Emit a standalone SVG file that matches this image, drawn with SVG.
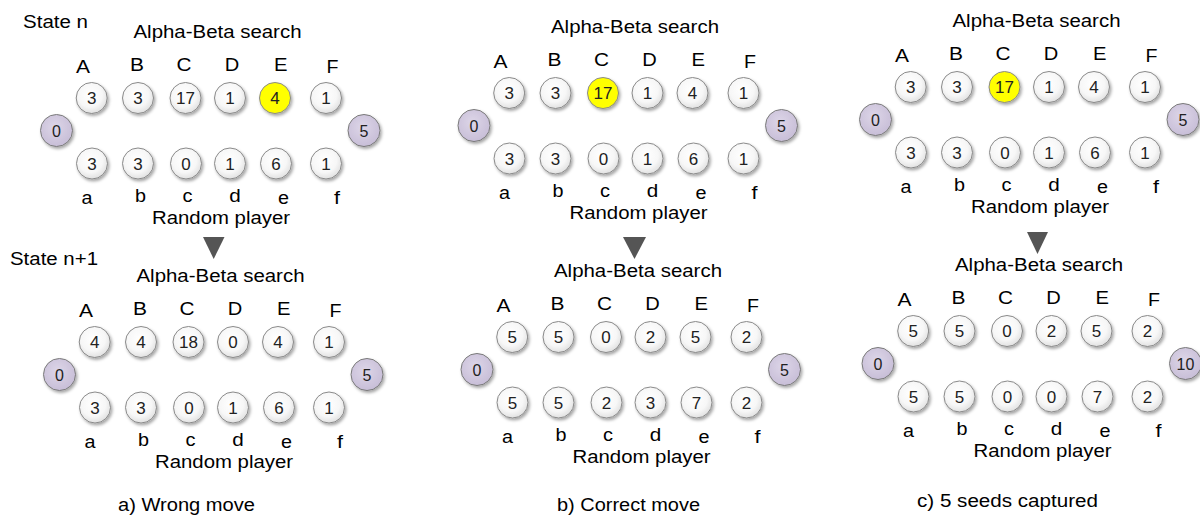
<svg xmlns="http://www.w3.org/2000/svg" width="1200" height="516" viewBox="0 0 1200 516">
<defs>
<radialGradient id="pitGrad" cx="45%" cy="40%" r="65%">
<stop offset="0" stop-color="#ffffff"/>
<stop offset="0.6" stop-color="#f7f7f7"/>
<stop offset="1" stop-color="#dcdcdc"/>
</radialGradient>
<radialGradient id="storeGrad" cx="45%" cy="40%" r="65%">
<stop offset="0" stop-color="#ddd6e8"/>
<stop offset="1" stop-color="#c6bcd6"/>
</radialGradient>
<filter id="sh" x="-30%" y="-30%" width="170%" height="170%">
<feDropShadow dx="1.5" dy="2" stdDeviation="1.4" flood-color="#000" flood-opacity="0.35"/>
</filter>
</defs>
<style>
text{font-family:"Liberation Sans",Arial,sans-serif;fill:#000}
.lbl{font-size:17.5px;text-anchor:middle}
.lbs{font-size:17.5px;text-anchor:start}
.pit circle{fill:url(#pitGrad);stroke:#8a8a8a;stroke-width:1;filter:url(#sh)}
.pit text{font-size:17px;text-anchor:middle;fill:#222}
.hl circle{fill:#ffff00}
.store circle{fill:url(#storeGrad);stroke:#7a7a7a;stroke-width:1;filter:url(#sh)}
.store text{font-size:16px;text-anchor:middle;fill:#222}
.arrow{fill:#555}
</style>

<text class="lbs" x="23" y="28" textLength="65" lengthAdjust="spacingAndGlyphs">State n</text>
<text class="lbs" x="10" y="265" textLength="88" lengthAdjust="spacingAndGlyphs">State n+1</text>
<text class="lbl" x="186.5" y="511" textLength="137" lengthAdjust="spacingAndGlyphs">a) Wrong move</text>
<text class="lbl" x="628.5" y="511" textLength="143" lengthAdjust="spacingAndGlyphs">b) Correct move</text>
<text class="lbl" x="1007.5" y="507" textLength="181" lengthAdjust="spacingAndGlyphs">c) 5 seeds captured</text>

<g id="connectors">
<polygon class="arrow" points="203,237 224.5,237 213.7,259"/>
<polygon class="arrow" points="623,237 646,237 634.5,259"/>
<polygon class="arrow" points="1027,232 1048,232 1037.5,254"/>
</g>

<!-- Board a1 -->
<g id="board-a1" transform="translate(0,0)">
<g class="labels">
<text class="lbl" x="217.5" y="37.7" textLength="168" lengthAdjust="spacingAndGlyphs">Alpha-Beta search</text>
<text class="lbl" x="83" y="72.5" textLength="14" lengthAdjust="spacingAndGlyphs">A</text>
<text class="lbl" x="137" y="70.7" textLength="14" lengthAdjust="spacingAndGlyphs">B</text>
<text class="lbl" x="184" y="70.7" textLength="15" lengthAdjust="spacingAndGlyphs">C</text>
<text class="lbl" x="232" y="70.7" textLength="14.5" lengthAdjust="spacingAndGlyphs">D</text>
<text class="lbl" x="280.7" y="70.7" textLength="13.5" lengthAdjust="spacingAndGlyphs">E</text>
<text class="lbl" x="332.5" y="72.5" textLength="12" lengthAdjust="spacingAndGlyphs">F</text>
<text class="lbl" x="87" y="204" textLength="11" lengthAdjust="spacingAndGlyphs">a</text>
<text class="lbl" x="140.5" y="202.3" textLength="11" lengthAdjust="spacingAndGlyphs">b</text>
<text class="lbl" x="187.5" y="202.3" textLength="10" lengthAdjust="spacingAndGlyphs">c</text>
<text class="lbl" x="235" y="202.3" textLength="11.5" lengthAdjust="spacingAndGlyphs">d</text>
<text class="lbl" x="283.5" y="204" textLength="11" lengthAdjust="spacingAndGlyphs">e</text>
<text class="lbl" x="337" y="204" textLength="6" lengthAdjust="spacingAndGlyphs">f</text>
<text class="lbl" x="221" y="224.3" textLength="138" lengthAdjust="spacingAndGlyphs">Random player</text>
</g>
<g id="a1-A" class="pit" transform="translate(91.7,98)"><circle r="15.5"/><text y="6">3</text></g>
<g id="a1-B" class="pit" transform="translate(138,98)"><circle r="15.5"/><text y="6">3</text></g>
<g id="a1-C" class="pit" transform="translate(185.5,98)"><circle r="15.5"/><text y="6">17</text></g>
<g id="a1-D" class="pit" transform="translate(230,98)"><circle r="15.5"/><text y="6">1</text></g>
<g id="a1-E" class="pit hl" transform="translate(275,98)"><circle r="15.5"/><text y="6">4</text></g>
<g id="a1-F" class="pit" transform="translate(326,98)"><circle r="15.5"/><text y="6">1</text></g>
<g id="a1-storeL" class="store" transform="translate(56.5,130.5)"><circle r="16"/><text y="6">0</text></g>
<g id="a1-storeR" class="store" transform="translate(364,130.5)"><circle r="16"/><text y="6">5</text></g>
<g id="a1-a" class="pit" transform="translate(92,163.5)"><circle r="15.5"/><text y="6">3</text></g>
<g id="a1-b" class="pit" transform="translate(138,163.5)"><circle r="15.5"/><text y="6">3</text></g>
<g id="a1-c" class="pit" transform="translate(186,163.5)"><circle r="15.5"/><text y="6">0</text></g>
<g id="a1-d" class="pit" transform="translate(230,163.5)"><circle r="15.5"/><text y="6">1</text></g>
<g id="a1-e" class="pit" transform="translate(276,163.5)"><circle r="15.5"/><text y="6">6</text></g>
<g id="a1-f" class="pit" transform="translate(326,163.5)"><circle r="15.5"/><text y="6">1</text></g>
</g>

<!-- Board a2 -->
<g id="board-a2" transform="translate(3,244)">
<g class="labels">
<text class="lbl" x="217.5" y="37.7" textLength="168" lengthAdjust="spacingAndGlyphs">Alpha-Beta search</text>
<text class="lbl" x="83" y="72.5" textLength="14" lengthAdjust="spacingAndGlyphs">A</text>
<text class="lbl" x="137" y="70.7" textLength="14" lengthAdjust="spacingAndGlyphs">B</text>
<text class="lbl" x="184" y="70.7" textLength="15" lengthAdjust="spacingAndGlyphs">C</text>
<text class="lbl" x="232" y="70.7" textLength="14.5" lengthAdjust="spacingAndGlyphs">D</text>
<text class="lbl" x="280.7" y="70.7" textLength="13.5" lengthAdjust="spacingAndGlyphs">E</text>
<text class="lbl" x="332.5" y="72.5" textLength="12" lengthAdjust="spacingAndGlyphs">F</text>
<text class="lbl" x="87" y="204" textLength="11" lengthAdjust="spacingAndGlyphs">a</text>
<text class="lbl" x="140.5" y="202.3" textLength="11" lengthAdjust="spacingAndGlyphs">b</text>
<text class="lbl" x="187.5" y="202.3" textLength="10" lengthAdjust="spacingAndGlyphs">c</text>
<text class="lbl" x="235" y="202.3" textLength="11.5" lengthAdjust="spacingAndGlyphs">d</text>
<text class="lbl" x="283.5" y="204" textLength="11" lengthAdjust="spacingAndGlyphs">e</text>
<text class="lbl" x="337" y="204" textLength="6" lengthAdjust="spacingAndGlyphs">f</text>
<text class="lbl" x="221" y="224.3" textLength="138" lengthAdjust="spacingAndGlyphs">Random player</text>
</g>
<g id="a2-A" class="pit" transform="translate(91.7,98)"><circle r="15.5"/><text y="6">4</text></g>
<g id="a2-B" class="pit" transform="translate(138,98)"><circle r="15.5"/><text y="6">4</text></g>
<g id="a2-C" class="pit" transform="translate(185.5,98)"><circle r="15.5"/><text y="6">18</text></g>
<g id="a2-D" class="pit" transform="translate(230,98)"><circle r="15.5"/><text y="6">0</text></g>
<g id="a2-E" class="pit" transform="translate(275,98)"><circle r="15.5"/><text y="6">4</text></g>
<g id="a2-F" class="pit" transform="translate(326,98)"><circle r="15.5"/><text y="6">1</text></g>
<g id="a2-storeL" class="store" transform="translate(56.5,130.5)"><circle r="16"/><text y="6">0</text></g>
<g id="a2-storeR" class="store" transform="translate(364,130.5)"><circle r="16"/><text y="6">5</text></g>
<g id="a2-a" class="pit" transform="translate(92,163.5)"><circle r="15.5"/><text y="6">3</text></g>
<g id="a2-b" class="pit" transform="translate(138,163.5)"><circle r="15.5"/><text y="6">3</text></g>
<g id="a2-c" class="pit" transform="translate(186,163.5)"><circle r="15.5"/><text y="6">0</text></g>
<g id="a2-d" class="pit" transform="translate(230,163.5)"><circle r="15.5"/><text y="6">1</text></g>
<g id="a2-e" class="pit" transform="translate(276,163.5)"><circle r="15.5"/><text y="6">6</text></g>
<g id="a2-f" class="pit" transform="translate(326,163.5)"><circle r="15.5"/><text y="6">1</text></g>
</g>

<!-- Board b1 -->
<g id="board-b1" transform="translate(417.5,-5)">
<g class="labels">
<text class="lbl" x="217.5" y="37.7" textLength="168" lengthAdjust="spacingAndGlyphs">Alpha-Beta search</text>
<text class="lbl" x="83" y="72.5" textLength="14" lengthAdjust="spacingAndGlyphs">A</text>
<text class="lbl" x="137" y="70.7" textLength="14" lengthAdjust="spacingAndGlyphs">B</text>
<text class="lbl" x="184" y="70.7" textLength="15" lengthAdjust="spacingAndGlyphs">C</text>
<text class="lbl" x="232" y="70.7" textLength="14.5" lengthAdjust="spacingAndGlyphs">D</text>
<text class="lbl" x="280.7" y="70.7" textLength="13.5" lengthAdjust="spacingAndGlyphs">E</text>
<text class="lbl" x="332.5" y="72.5" textLength="12" lengthAdjust="spacingAndGlyphs">F</text>
<text class="lbl" x="87" y="204" textLength="11" lengthAdjust="spacingAndGlyphs">a</text>
<text class="lbl" x="140.5" y="202.3" textLength="11" lengthAdjust="spacingAndGlyphs">b</text>
<text class="lbl" x="187.5" y="202.3" textLength="10" lengthAdjust="spacingAndGlyphs">c</text>
<text class="lbl" x="235" y="202.3" textLength="11.5" lengthAdjust="spacingAndGlyphs">d</text>
<text class="lbl" x="283.5" y="204" textLength="11" lengthAdjust="spacingAndGlyphs">e</text>
<text class="lbl" x="337" y="204" textLength="6" lengthAdjust="spacingAndGlyphs">f</text>
<text class="lbl" x="221" y="224.3" textLength="138" lengthAdjust="spacingAndGlyphs">Random player</text>
</g>
<g id="b1-A" class="pit" transform="translate(91.7,98)"><circle r="15.5"/><text y="6">3</text></g>
<g id="b1-B" class="pit" transform="translate(138,98)"><circle r="15.5"/><text y="6">3</text></g>
<g id="b1-C" class="pit hl" transform="translate(185.5,98)"><circle r="15.5"/><text y="6">17</text></g>
<g id="b1-D" class="pit" transform="translate(230,98)"><circle r="15.5"/><text y="6">1</text></g>
<g id="b1-E" class="pit" transform="translate(275,98)"><circle r="15.5"/><text y="6">4</text></g>
<g id="b1-F" class="pit" transform="translate(326,98)"><circle r="15.5"/><text y="6">1</text></g>
<g id="b1-storeL" class="store" transform="translate(56.5,130.5)"><circle r="16"/><text y="6">0</text></g>
<g id="b1-storeR" class="store" transform="translate(364,130.5)"><circle r="16"/><text y="6">5</text></g>
<g id="b1-a" class="pit" transform="translate(92,163.5)"><circle r="15.5"/><text y="6">3</text></g>
<g id="b1-b" class="pit" transform="translate(138,163.5)"><circle r="15.5"/><text y="6">3</text></g>
<g id="b1-c" class="pit" transform="translate(186,163.5)"><circle r="15.5"/><text y="6">0</text></g>
<g id="b1-d" class="pit" transform="translate(230,163.5)"><circle r="15.5"/><text y="6">1</text></g>
<g id="b1-e" class="pit" transform="translate(276,163.5)"><circle r="15.5"/><text y="6">6</text></g>
<g id="b1-f" class="pit" transform="translate(326,163.5)"><circle r="15.5"/><text y="6">1</text></g>
</g>

<!-- Board b2 -->
<g id="board-b2" transform="translate(420.5,239)">
<g class="labels">
<text class="lbl" x="217.5" y="37.7" textLength="168" lengthAdjust="spacingAndGlyphs">Alpha-Beta search</text>
<text class="lbl" x="83" y="72.5" textLength="14" lengthAdjust="spacingAndGlyphs">A</text>
<text class="lbl" x="137" y="70.7" textLength="14" lengthAdjust="spacingAndGlyphs">B</text>
<text class="lbl" x="184" y="70.7" textLength="15" lengthAdjust="spacingAndGlyphs">C</text>
<text class="lbl" x="232" y="70.7" textLength="14.5" lengthAdjust="spacingAndGlyphs">D</text>
<text class="lbl" x="280.7" y="70.7" textLength="13.5" lengthAdjust="spacingAndGlyphs">E</text>
<text class="lbl" x="332.5" y="72.5" textLength="12" lengthAdjust="spacingAndGlyphs">F</text>
<text class="lbl" x="87" y="204" textLength="11" lengthAdjust="spacingAndGlyphs">a</text>
<text class="lbl" x="140.5" y="202.3" textLength="11" lengthAdjust="spacingAndGlyphs">b</text>
<text class="lbl" x="187.5" y="202.3" textLength="10" lengthAdjust="spacingAndGlyphs">c</text>
<text class="lbl" x="235" y="202.3" textLength="11.5" lengthAdjust="spacingAndGlyphs">d</text>
<text class="lbl" x="283.5" y="204" textLength="11" lengthAdjust="spacingAndGlyphs">e</text>
<text class="lbl" x="337" y="204" textLength="6" lengthAdjust="spacingAndGlyphs">f</text>
<text class="lbl" x="221" y="224.3" textLength="138" lengthAdjust="spacingAndGlyphs">Random player</text>
</g>
<g id="b2-A" class="pit" transform="translate(91.7,98)"><circle r="15.5"/><text y="6">5</text></g>
<g id="b2-B" class="pit" transform="translate(138,98)"><circle r="15.5"/><text y="6">5</text></g>
<g id="b2-C" class="pit" transform="translate(185.5,98)"><circle r="15.5"/><text y="6">0</text></g>
<g id="b2-D" class="pit" transform="translate(230,98)"><circle r="15.5"/><text y="6">2</text></g>
<g id="b2-E" class="pit" transform="translate(275,98)"><circle r="15.5"/><text y="6">5</text></g>
<g id="b2-F" class="pit" transform="translate(326,98)"><circle r="15.5"/><text y="6">2</text></g>
<g id="b2-storeL" class="store" transform="translate(56.5,130.5)"><circle r="16"/><text y="6">0</text></g>
<g id="b2-storeR" class="store" transform="translate(364,130.5)"><circle r="16"/><text y="6">5</text></g>
<g id="b2-a" class="pit" transform="translate(92,163.5)"><circle r="15.5"/><text y="6">5</text></g>
<g id="b2-b" class="pit" transform="translate(138,163.5)"><circle r="15.5"/><text y="6">5</text></g>
<g id="b2-c" class="pit" transform="translate(186,163.5)"><circle r="15.5"/><text y="6">2</text></g>
<g id="b2-d" class="pit" transform="translate(230,163.5)"><circle r="15.5"/><text y="6">3</text></g>
<g id="b2-e" class="pit" transform="translate(276,163.5)"><circle r="15.5"/><text y="6">7</text></g>
<g id="b2-f" class="pit" transform="translate(326,163.5)"><circle r="15.5"/><text y="6">2</text></g>
</g>

<!-- Board c1 -->
<g id="board-c1" transform="translate(819,-11)">
<g class="labels">
<text class="lbl" x="217.5" y="37.7" textLength="168" lengthAdjust="spacingAndGlyphs">Alpha-Beta search</text>
<text class="lbl" x="83" y="72.5" textLength="14" lengthAdjust="spacingAndGlyphs">A</text>
<text class="lbl" x="137" y="70.7" textLength="14" lengthAdjust="spacingAndGlyphs">B</text>
<text class="lbl" x="184" y="70.7" textLength="15" lengthAdjust="spacingAndGlyphs">C</text>
<text class="lbl" x="232" y="70.7" textLength="14.5" lengthAdjust="spacingAndGlyphs">D</text>
<text class="lbl" x="280.7" y="70.7" textLength="13.5" lengthAdjust="spacingAndGlyphs">E</text>
<text class="lbl" x="332.5" y="72.5" textLength="12" lengthAdjust="spacingAndGlyphs">F</text>
<text class="lbl" x="87" y="204" textLength="11" lengthAdjust="spacingAndGlyphs">a</text>
<text class="lbl" x="140.5" y="202.3" textLength="11" lengthAdjust="spacingAndGlyphs">b</text>
<text class="lbl" x="187.5" y="202.3" textLength="10" lengthAdjust="spacingAndGlyphs">c</text>
<text class="lbl" x="235" y="202.3" textLength="11.5" lengthAdjust="spacingAndGlyphs">d</text>
<text class="lbl" x="283.5" y="204" textLength="11" lengthAdjust="spacingAndGlyphs">e</text>
<text class="lbl" x="337" y="204" textLength="6" lengthAdjust="spacingAndGlyphs">f</text>
<text class="lbl" x="221" y="224.3" textLength="138" lengthAdjust="spacingAndGlyphs">Random player</text>
</g>
<g id="c1-A" class="pit" transform="translate(91.7,98)"><circle r="15.5"/><text y="6">3</text></g>
<g id="c1-B" class="pit" transform="translate(138,98)"><circle r="15.5"/><text y="6">3</text></g>
<g id="c1-C" class="pit hl" transform="translate(185.5,98)"><circle r="15.5"/><text y="6">17</text></g>
<g id="c1-D" class="pit" transform="translate(230,98)"><circle r="15.5"/><text y="6">1</text></g>
<g id="c1-E" class="pit" transform="translate(275,98)"><circle r="15.5"/><text y="6">4</text></g>
<g id="c1-F" class="pit" transform="translate(326,98)"><circle r="15.5"/><text y="6">1</text></g>
<g id="c1-storeL" class="store" transform="translate(56.5,130.5)"><circle r="16"/><text y="6">0</text></g>
<g id="c1-storeR" class="store" transform="translate(364,130.5)"><circle r="16"/><text y="6">5</text></g>
<g id="c1-a" class="pit" transform="translate(92,163.5)"><circle r="15.5"/><text y="6">3</text></g>
<g id="c1-b" class="pit" transform="translate(138,163.5)"><circle r="15.5"/><text y="6">3</text></g>
<g id="c1-c" class="pit" transform="translate(186,163.5)"><circle r="15.5"/><text y="6">0</text></g>
<g id="c1-d" class="pit" transform="translate(230,163.5)"><circle r="15.5"/><text y="6">1</text></g>
<g id="c1-e" class="pit" transform="translate(276,163.5)"><circle r="15.5"/><text y="6">6</text></g>
<g id="c1-f" class="pit" transform="translate(326,163.5)"><circle r="15.5"/><text y="6">1</text></g>
</g>

<!-- Board c2 -->
<g id="board-c2" transform="translate(821.5,233)">
<g class="labels">
<text class="lbl" x="217.5" y="37.7" textLength="168" lengthAdjust="spacingAndGlyphs">Alpha-Beta search</text>
<text class="lbl" x="83" y="72.5" textLength="14" lengthAdjust="spacingAndGlyphs">A</text>
<text class="lbl" x="137" y="70.7" textLength="14" lengthAdjust="spacingAndGlyphs">B</text>
<text class="lbl" x="184" y="70.7" textLength="15" lengthAdjust="spacingAndGlyphs">C</text>
<text class="lbl" x="232" y="70.7" textLength="14.5" lengthAdjust="spacingAndGlyphs">D</text>
<text class="lbl" x="280.7" y="70.7" textLength="13.5" lengthAdjust="spacingAndGlyphs">E</text>
<text class="lbl" x="332.5" y="72.5" textLength="12" lengthAdjust="spacingAndGlyphs">F</text>
<text class="lbl" x="87" y="204" textLength="11" lengthAdjust="spacingAndGlyphs">a</text>
<text class="lbl" x="140.5" y="202.3" textLength="11" lengthAdjust="spacingAndGlyphs">b</text>
<text class="lbl" x="187.5" y="202.3" textLength="10" lengthAdjust="spacingAndGlyphs">c</text>
<text class="lbl" x="235" y="202.3" textLength="11.5" lengthAdjust="spacingAndGlyphs">d</text>
<text class="lbl" x="283.5" y="204" textLength="11" lengthAdjust="spacingAndGlyphs">e</text>
<text class="lbl" x="337" y="204" textLength="6" lengthAdjust="spacingAndGlyphs">f</text>
<text class="lbl" x="221" y="224.3" textLength="138" lengthAdjust="spacingAndGlyphs">Random player</text>
</g>
<g id="c2-A" class="pit" transform="translate(91.7,98)"><circle r="15.5"/><text y="6">5</text></g>
<g id="c2-B" class="pit" transform="translate(138,98)"><circle r="15.5"/><text y="6">5</text></g>
<g id="c2-C" class="pit" transform="translate(185.5,98)"><circle r="15.5"/><text y="6">0</text></g>
<g id="c2-D" class="pit" transform="translate(230,98)"><circle r="15.5"/><text y="6">2</text></g>
<g id="c2-E" class="pit" transform="translate(275,98)"><circle r="15.5"/><text y="6">5</text></g>
<g id="c2-F" class="pit" transform="translate(326,98)"><circle r="15.5"/><text y="6">2</text></g>
<g id="c2-storeL" class="store" transform="translate(56.5,130.5)"><circle r="16"/><text y="6">0</text></g>
<g id="c2-storeR" class="store" transform="translate(364,130.5)"><circle r="16"/><text y="6">10</text></g>
<g id="c2-a" class="pit" transform="translate(92,163.5)"><circle r="15.5"/><text y="6">5</text></g>
<g id="c2-b" class="pit" transform="translate(138,163.5)"><circle r="15.5"/><text y="6">5</text></g>
<g id="c2-c" class="pit" transform="translate(186,163.5)"><circle r="15.5"/><text y="6">0</text></g>
<g id="c2-d" class="pit" transform="translate(230,163.5)"><circle r="15.5"/><text y="6">0</text></g>
<g id="c2-e" class="pit" transform="translate(276,163.5)"><circle r="15.5"/><text y="6">7</text></g>
<g id="c2-f" class="pit" transform="translate(326,163.5)"><circle r="15.5"/><text y="6">2</text></g>
</g>
</svg>
